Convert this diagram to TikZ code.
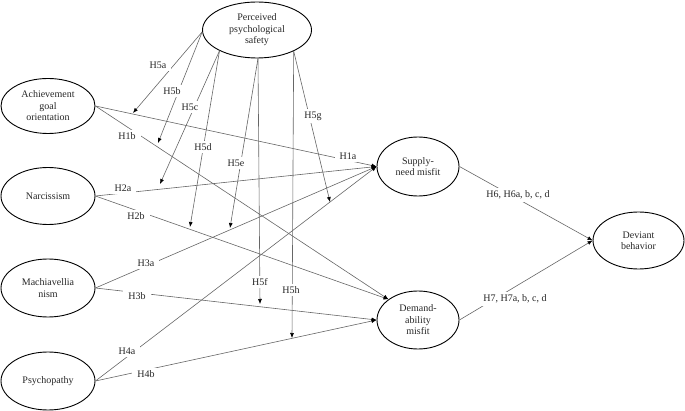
\documentclass[tikz,border=0pt]{standalone}
\usepackage{fontspec}
\setmainfont{Liberation Serif}
\usetikzlibrary{shapes.geometric,arrows.meta}
\begin{document}
\begin{tikzpicture}[x=1pt,y=-1pt,
  var/.style={ellipse,draw=black,line width=0.9pt,inner sep=0pt,align=center,
    font=\fontsize{10}{11.5}\selectfont,text=black!85},
  link/.style={draw=black!60,line width=0.6pt,-{Latex[length=5pt,width=4pt,color=black]}},
  hyp/.style={fill=white,inner xsep=5pt,inner ysep=2.5pt,
    font=\fontsize{10}{12}\selectfont,text=black!85}]
\useasboundingbox (0,0) rectangle (685,411);

% variables
\node[var,minimum width=109pt,minimum height=56pt] (pps) at (257,30) {Perceived\\psychological\\safety};
\node[var,minimum width=94pt,minimum height=55pt] (ago) at (48,106) {Achievement\\goal\\orientation};
\node[var,minimum width=94pt,minimum height=57pt] (nar) at (48,196) {Narcissism};
\node[var,minimum width=94pt,minimum height=58pt] (mac) at (48,288) {Machiavellia\\nism};
\node[var,minimum width=94pt,minimum height=58pt] (psy) at (48,381) {Psychopathy};
\node[var,minimum width=82pt,minimum height=59pt] (snm) at (418,166.5) {Supply-\\need misfit};
\node[var,minimum width=82pt,minimum height=58pt] (dam) at (418,320) {Demand-\\ability\\misfit};
\node[var,minimum width=91pt,minimum height=57pt] (dev) at (638.5,240.5) {Deviant\\behavior};

% main paths
\draw[link] (ago.east) -- (snm.west);
\draw[link] (ago.east) -- (dam.145);
\draw[link] (nar.east) -- (snm.west);
\draw[link] (nar.east) -- (dam.145);
\draw[link] (mac.east) -- (snm.west);
\draw[link] (mac.east) -- (dam.west);
\draw[link] (psy.east) -- (snm.west);
\draw[link] (psy.east) -- (dam.west);
\draw[link] (snm.east) -- (dev.west);
\draw[link] (dam.east) -- (dev.west);

% moderation targets
\coordinate (t5a) at (133,113);
\coordinate (t5b) at (158,143);
\coordinate (t5c) at (160,184);
\coordinate (t5d) at (190,227);
\coordinate (t5e) at (230,228);
\coordinate (t5f) at (260,304);
\coordinate (t5g) at (330,202);
\coordinate (t5h) at (292,338);

\draw[link] (pps.182) -- (t5a);
\draw[link] (pps.182) -- (t5b);
\draw[link] (pps.209) -- (t5c);
\draw[link] (pps.209) -- (t5d);
\draw[link] (pps.272) -- (t5e);
\draw[link] (pps.272) -- (t5f);
\draw[link] (pps.330) -- (t5g);
\draw[link] (pps.330) -- (t5h);

% labels
\node[hyp] (l5a) at (158,65) {H5a};
\node[hyp] (l5b) at (172,91) {H5b};
\node[hyp] (l5c) at (190,107) {H5c};
\node[hyp] (l5d) at (203,147) {H5d};
\node[hyp] (l5e) at (236,163) {H5e};
\node[hyp] (l5f) at (260,282) {H5f};
\node[hyp] (l5g) at (313,116) {H5g};
\node[hyp] (l5h) at (291,290) {H5h};
\node[hyp] (l1a) at (348,156) {H1a};
\node[hyp] (l1b) at (127,136) {H1b};
\node[hyp] (l2a) at (123,188) {H2a};
\node[hyp] (l2b) at (136,216) {H2b};
\node[hyp] (l3a) at (146,263) {H3a};
\node[hyp] (l3b) at (137,296) {H3b};
\node[hyp] (l4a) at (127,351) {H4a};
\node[hyp] (l4b) at (146,374) {H4b};
\node[hyp] (l6) at (518,195) {H6, H6a, b, c, d};
\node[hyp] (l7) at (515,299) {H7, H7a, b, c, d};
\end{tikzpicture}
\end{document}
